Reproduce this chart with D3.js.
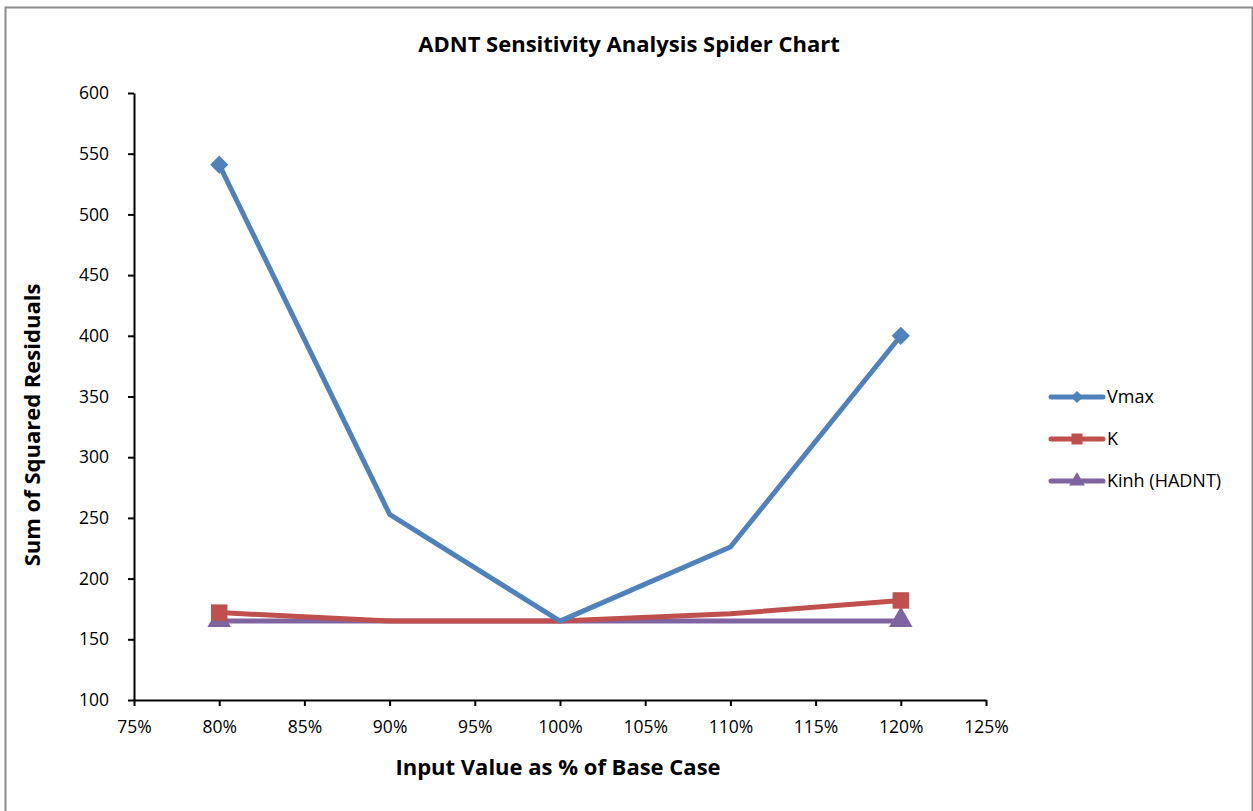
<!DOCTYPE html>
<html>
<head>
<meta charset="utf-8">
<script src="https://cdn.jsdelivr.net/npm/d3@7"></script>
<style>
  html, body { margin: 0; padding: 0; background: #fff; }
  svg { display: block; font-family: "Open Sans", Lato, sans-serif; }
</style>
</head>
<body>
<svg id="chart" width="1253" height="811"></svg>
<script>
// Input levels as fraction of base case
const levels = [0.8, 0.9, 1.0, 1.1, 1.2];
// Sum of squared residuals per parameter
const vmax = [541, 253, 165, 226, 400];
const kVals = [172, 165, 165, 171, 182];
const kinh = [165, 165, 165, 165, 165];
const xTicks = [0.75, 0.8, 0.85, 0.9, 0.95, 1.0, 1.05, 1.1, 1.15, 1.2, 1.25];
const yTicks = [100, 150, 200, 250, 300, 350, 400, 450, 500, 550, 600];

const series = [
  { name: "Vmax", values: vmax, color: "#4F81BD", marker: "diamond" },
  { name: "K", values: kVals, color: "#C0504D", marker: "square" },
  { name: "Kinh (HADNT)", values: kinh, color: "#8064A2", marker: "triangle" }
];

const svg = d3.select("#chart");

// Outer chart frame
svg.append("rect")
  .attr("x", 5.5).attr("y", 7.5)
  .attr("width", 1247).attr("height", 810)
  .attr("fill", "#fff").attr("stroke", "#8c8c8c").attr("stroke-width", 2);

const x = d3.scaleLinear().domain([0.75, 1.25]).range([134, 986]);
const y = d3.scaleLinear().domain([100, 600]).range([700, 93]);

// Axes
const xAxis = svg.append("g").attr("transform", `translate(0,${y(100)})`)
  .call(d3.axisBottom(x).tickValues(xTicks).tickFormat(d3.format(".0%")).tickSize(6).tickSizeOuter(0));
const yAxis = svg.append("g").attr("transform", `translate(${x(0.75)},0)`)
  .call(d3.axisLeft(y).tickValues(yTicks).tickFormat(d3.format("d")).tickSize(6).tickSizeOuter(0));

[xAxis, yAxis].forEach(g => {
  g.select(".domain").attr("stroke", "#000").attr("stroke-width", 2);
  g.selectAll(".tick line").attr("stroke", "#000").attr("stroke-width", 2);
  g.selectAll(".tick text").attr("fill", "#000").style("font-size", "17.5px")
    .style("font-family", "'Open Sans', Lato, sans-serif");
});
xAxis.selectAll(".tick text").attr("y", 27).attr("dy", "0.35em");
yAxis.selectAll(".tick text").attr("x", -25);

const symbolFor = m => m === "square" || m === "diamond" ? d3.symbolSquare : d3.symbolTriangle;
const sizeFor = m => m === "diamond" ? 165 : (m === "square" ? 270 : 240);
const rotFor = m => m === "diamond" ? 45 : 0;

const line = d3.line().x((d, i) => x(levels[i])).y(d => y(d));

// Draw from last to first so Vmax sits on top
series.slice().reverse().forEach(s => {
  svg.append("path")
    .datum(s.values)
    .attr("d", line)
    .attr("fill", "none")
    .attr("stroke", s.color)
    .attr("stroke-width", 5)
    .attr("stroke-linejoin", "round");
  // markers only at the end points, as in the source chart
  [0, s.values.length - 1].forEach(i => {
    svg.append("path")
      .attr("d", d3.symbol().type(symbolFor(s.marker)).size(sizeFor(s.marker)))
      .attr("transform", `translate(${x(levels[i])},${y(s.values[i]) + (s.marker === "triangle" ? -1 : 0)}) rotate(${rotFor(s.marker)})`)
      .attr("fill", s.color);
  });
});

// Title
svg.append("text")
  .attr("x", 629).attr("y", 52)
  .attr("text-anchor", "middle")
  .style("font-size", "22px").style("font-weight", "bold")
  .text("ADNT Sensitivity Analysis Spider Chart");

// Axis titles
svg.append("text")
  .attr("x", 558).attr("y", 775)
  .attr("text-anchor", "middle")
  .style("font-size", "22px").style("font-weight", "bold")
  .text("Input Value as % of Base Case");

svg.append("text")
  .attr("transform", "translate(40,425) rotate(-90)")
  .attr("text-anchor", "middle")
  .style("font-size", "22px").style("font-weight", "bold")
  .text("Sum of Squared Residuals");

// Legend
const legend = svg.append("g");
series.forEach((s, i) => {
  const ly = 397 + i * 42;
  legend.append("line")
    .attr("x1", 1051).attr("x2", 1103).attr("y1", ly).attr("y2", ly)
    .attr("stroke", s.color).attr("stroke-width", 5).attr("stroke-linecap", "round");
  legend.append("path")
    .attr("d", d3.symbol().type(symbolFor(s.marker)).size(sizeFor(s.marker) * 0.45))
    .attr("transform", `translate(1077,${ly}) rotate(${rotFor(s.marker)})`)
    .attr("fill", s.color);
  legend.append("text")
    .attr("x", 1107).attr("y", ly).attr("dy", "0.35em")
    .style("font-size", "18px")
    .text(s.name);
});
</script>
</body>
</html>
